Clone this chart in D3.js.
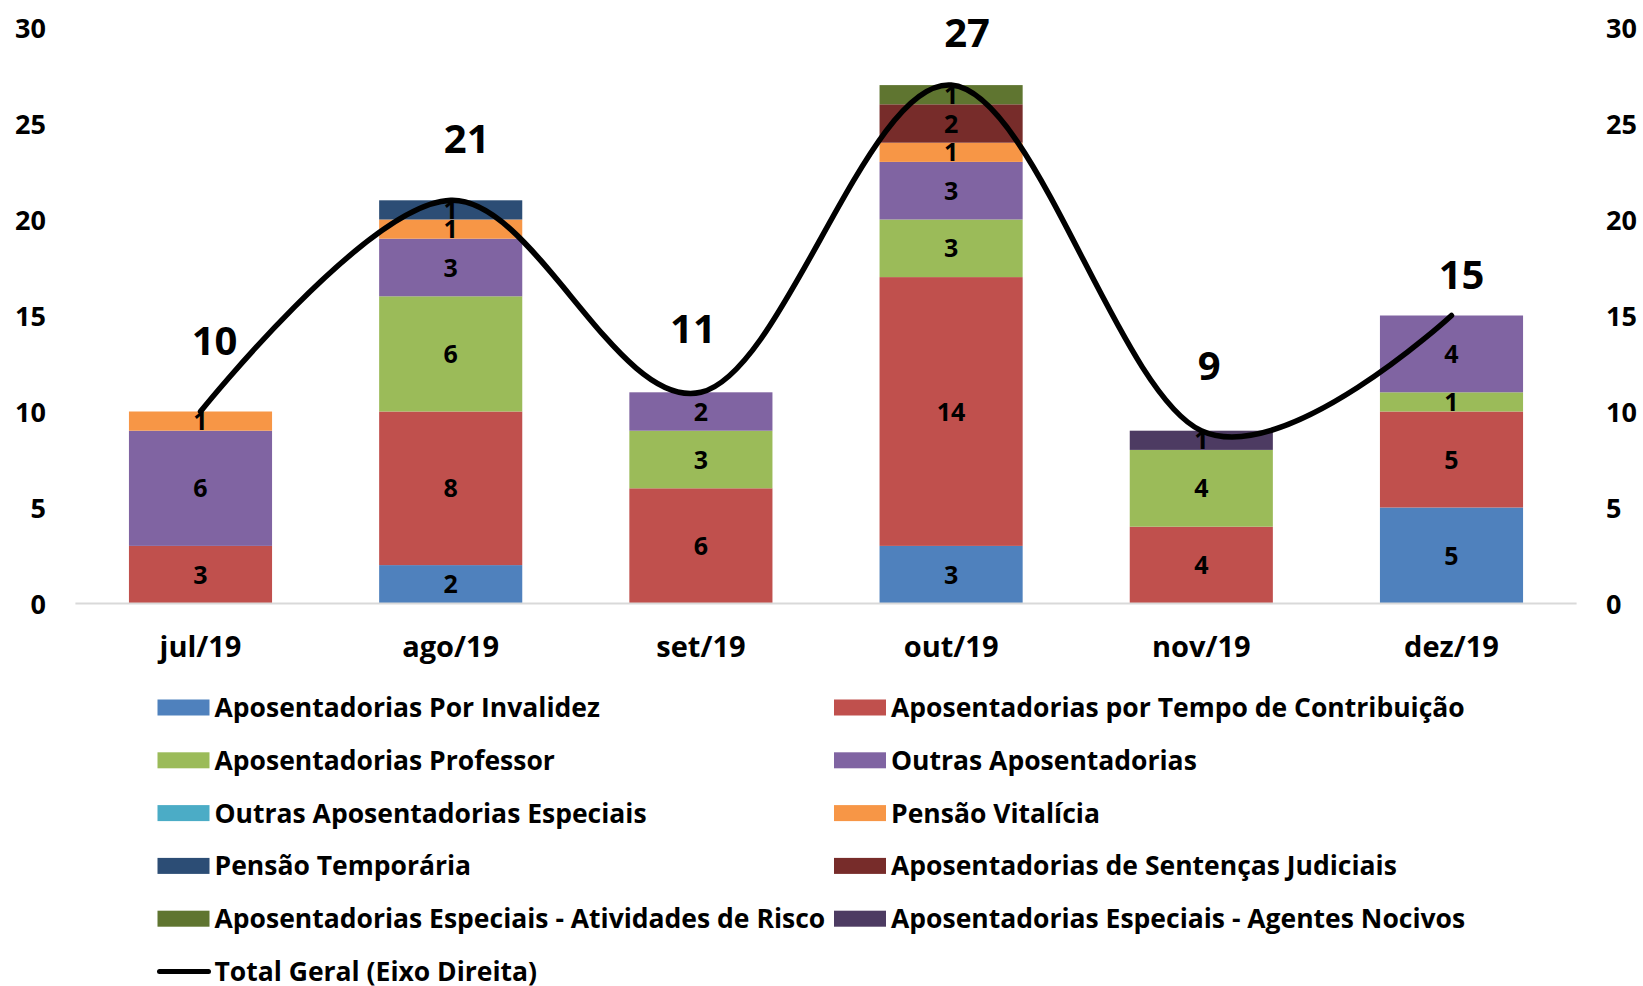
<!doctype html>
<html>
<head>
<meta charset="utf-8">
<title>Concessões por mês</title>
<style>
  body { margin: 0; background: #fff; }
  svg text { font-family: "Open Sans", "Noto Sans", sans-serif; font-weight: 700; fill: #000; }
</style>
</head>
<body>
<svg id="chart" width="1643" height="986"></svg>
<script src="https://cdn.jsdelivr.net/npm/d3@7"></script>
<script>
// months on the x axis
var months = ["jul/19", "ago/19", "set/19", "out/19", "nov/19", "dez/19"];

// stacked series, bottom to top
var seriesNames = [
  "Aposentadorias Por Invalidez",
  "Aposentadorias por Tempo de Contribuição",
  "Aposentadorias Professor",
  "Outras Aposentadorias",
  "Outras Aposentadorias Especiais",
  "Pensão Vitalícia",
  "Pensão Temporária",
  "Aposentadorias de Sentenças Judiciais",
  "Aposentadorias Especiais - Atividades de Risco",
  "Aposentadorias Especiais - Agentes Nocivos"
];
var seriesColors = ["#4f81bd", "#c0504d", "#9bbb59", "#8064a2", "#4bacc6",
                    "#f79646", "#2c4d75", "#772c2a", "#5f7530", "#4d3b62"];

var invalidez   = [0, 2, 0, 3, 0, 5];
var tempoContr  = [3, 8, 6, 14, 4, 5];
var professor   = [0, 6, 3, 3, 4, 1];
var outrasApos  = [6, 3, 2, 3, 0, 4];
var outrasEsp   = [0, 0, 0, 0, 0, 0];
var pensaoVit   = [1, 1, 0, 1, 0, 0];
var pensaoTemp  = [0, 1, 0, 0, 0, 0];
var sentencas   = [0, 0, 0, 2, 0, 0];
var ativRisco   = [0, 0, 0, 1, 0, 0];
var agentesNoc  = [0, 0, 0, 0, 1, 0];

var totalGeral  = [10, 21, 11, 27, 9, 15];
var yTicks      = [0, 5, 10, 15, 20, 25, 30];

// label nudges for the totals (the original places them by hand)
var totalNudgeX = [14, 16, -8, 16, 8, 10];
var totalNudgeY = [57, 47, 49, 38, 51, 27];

var seriesValues = [invalidez, tempoContr, professor, outrasApos, outrasEsp,
                    pensaoVit, pensaoTemp, sentencas, ativRisco, agentesNoc];

var rows = months.map(function(m, i) {
  var r = { month: m };
  seriesNames.forEach(function(s, k) { r[s] = seriesValues[k][i]; });
  return r;
});

var svg = d3.select("#chart");

var x = d3.scaleBand()
    .domain(months)
    .range([75.4, 1576.6])
    .paddingInner(0.428)
    .paddingOuter(0.214);

var y = d3.scaleLinear().domain([0, 30]).range([603.5, 27.5]);
var yRight = d3.scaleLinear().domain([0, 30]).range([603.5, 27.5]);

var stack = d3.stack().keys(seriesNames);
var layers = stack(rows);

// bars
var layer = svg.append("g").selectAll("g")
  .data(layers)
  .enter().append("g")
    .attr("fill", function(d, i) { return seriesColors[i]; });

layer.selectAll("rect")
  .data(function(d) { return d; })
  .enter().append("rect")
    .attr("x", function(d) { return x(d.data.month); })
    .attr("width", x.bandwidth())
    .attr("y", function(d) { return y(d[1]); })
    .attr("height", function(d) { return y(d[0]) - y(d[1]); });

// axis baseline
svg.append("line")
  .attr("x1", 75.4).attr("x2", 1576.6)
  .attr("y1", y(0)).attr("y2", y(0))
  .attr("stroke", "#d9d9d9").attr("stroke-width", 2);

// segment labels
layer.selectAll("text")
  .data(function(d) { return d.filter(function(p) { return p[1] - p[0] > 0; }); })
  .enter().append("text")
    .attr("x", function(d) { return x(d.data.month) + x.bandwidth() / 2; })
    .attr("y", function(d) { return (y(d[0]) + y(d[1])) / 2; })
    .attr("dy", "0.36em")
    .attr("text-anchor", "middle")
    .style("font-size", "25px")
    .text(function(d) { return d[1] - d[0]; });

// left axis
var leftAxis = svg.append("g")
  .attr("transform", "translate(46,0)")
  .call(d3.axisLeft(y).tickValues(yTicks).tickSize(0).tickPadding(0));
leftAxis.select(".domain").remove();
leftAxis.selectAll("text").style("font-size", "27px").attr("dy", "0.36em");

// right axis
var rightAxis = svg.append("g")
  .attr("transform", "translate(1606,0)")
  .call(d3.axisRight(yRight).tickValues(yTicks).tickSize(0).tickPadding(0));
rightAxis.select(".domain").remove();
rightAxis.selectAll("text").style("font-size", "27px").attr("dy", "0.36em");

// bottom axis labels
var bottomAxis = svg.append("g")
  .attr("transform", "translate(0," + y(0) + ")")
  .call(d3.axisBottom(x).tickSize(0).tickPadding(33));
bottomAxis.select(".domain").remove();
bottomAxis.selectAll("text").style("font-size", "29px");

// total line (smoothed)
var line = d3.line()
  .x(function(d, i) { return x(months[i]) + x.bandwidth() / 2; })
  .y(function(d) { return yRight(d); })
  .curve(d3.curveCardinal.tension(0));

svg.append("path")
  .datum(totalGeral)
  .attr("d", line)
  .attr("fill", "none")
  .attr("stroke", "#000")
  .attr("stroke-width", 5.5)
  .attr("stroke-linecap", "round")
  .attr("stroke-linejoin", "round");

svg.append("g").selectAll("text")
  .data(totalGeral)
  .enter().append("text")
    .attr("x", function(d, i) { return x(months[i]) + x.bandwidth() / 2 + totalNudgeX[i]; })
    .attr("y", function(d, i) { return yRight(d) - totalNudgeY[i]; })
    .attr("text-anchor", "middle")
    .style("font-size", "40px")
    .text(function(d) { return d; });

// legend
var legend = svg.append("g");
var colX = [157.5, 834];
var rowY0 = 707.5, rowStep = 52.8;

seriesNames.forEach(function(name, i) {
  var cx = colX[i % 2];
  var cy = rowY0 + Math.floor(i / 2) * rowStep;
  var item = legend.append("g").attr("transform", "translate(" + cx + "," + cy + ")");
  item.append("rect")
    .attr("x", 0).attr("y", -8)
    .attr("width", 52).attr("height", 16)
    .attr("fill", seriesColors[i]);
  item.append("text")
    .attr("x", 57)
    .attr("dy", "0.36em")
    .style("font-size", "26.5px")
    .text(name);
});

var lineItem = legend.append("g")
  .attr("transform", "translate(" + colX[0] + "," + (rowY0 + 5 * rowStep) + ")");
lineItem.append("line")
  .attr("x1", 2).attr("x2", 51)
  .attr("stroke", "#000").attr("stroke-width", 5).attr("stroke-linecap", "round");
lineItem.append("text")
  .attr("x", 57)
  .attr("dy", "0.36em")
  .style("font-size", "26.5px")
  .text("Total Geral (Eixo Direita)");
</script>
</body>
</html>
